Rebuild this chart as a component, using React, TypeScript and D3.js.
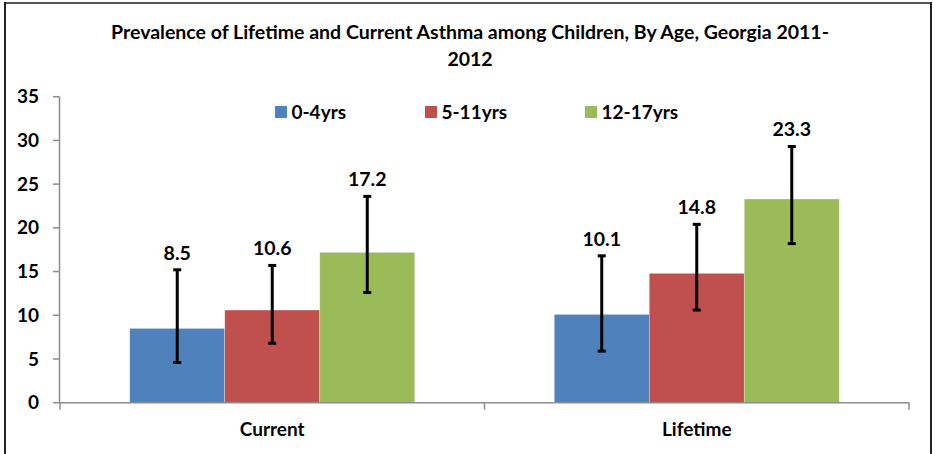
import React from "react";
import * as d3 from "d3";

const categories = ["Current", "Lifetime"];
const seriesNames = ["0-4yrs", "5-11yrs", "12-17yrs"];
const seriesColors = ["#4F81BD", "#C0504D", "#9BBB59"];
const currentValues = [8.5, 10.6, 17.2];
const lifetimeValues = [10.1, 14.8, 23.3];
const currentLower = [4.6, 6.8, 12.6];
const currentUpper = [15.2, 15.7, 23.6];
const lifetimeLower = [5.9, 10.6, 18.2];
const lifetimeUpper = [16.8, 20.4, 29.3];
const yTicks = [0, 5, 10, 15, 20, 25, 30, 35];
const titleLines = [
  "Prevalence of Lifetime and Current Asthma among Children, By Age, Georgia 2011-",
  "2012",
];

const W = 935;
const H = 454;
const FONT = "Lato, 'Open Sans', sans-serif";

export default function App() {
  const x0 = d3.scaleBand<string>().domain(categories).range([60, 909]).padding(0);
  const x1 = d3
    .scaleBand<string>()
    .domain(seriesNames)
    .range([0, x0.bandwidth()])
    .paddingInner(0)
    .paddingOuter(0.734);
  const y = d3.scaleLinear().domain([0, 35]).range([402.7, 96.7]);

  const rows = categories.map((c, ci) => ({
    cat: c,
    values: ci === 0 ? currentValues : lifetimeValues,
    lower: ci === 0 ? currentLower : lifetimeLower,
    upper: ci === 0 ? currentUpper : lifetimeUpper,
  }));

  const legendX = [275, 425, 585];
  const axisColor = "#8C8C8C";

  return (
    <svg
      width={W}
      height={H}
      style={{ position: "absolute", left: 0, top: 0, background: "#fff" }}
      fontFamily={FONT}
    >
      <rect x={0} y={0} width={W} height={H} fill="#fff" />
      {/* outer border */}
      <line x1={5} y1={3} x2={931} y2={3} stroke="#555" strokeWidth={2} />
      <line x1={5} y1={2} x2={5} y2={H} stroke="#222" strokeWidth={2} />
      <line x1={931} y1={2} x2={931} y2={H} stroke="#222" strokeWidth={2} />

      {titleLines.map((t, i) => (
        <text
          key={i}
          x={470}
          y={39 + i * 27}
          textAnchor="middle"
          fontWeight="bold"
          fontSize={19.5}
          fill="#000"
        >
          {t}
        </text>
      ))}

      {/* y axis */}
      <line x1={59.5} y1={y(35)} x2={59.5} y2={y(0)} stroke={axisColor} strokeWidth={1.5} />
      {yTicks.map((t) => (
        <g key={t}>
          <line x1={53} x2={59.5} y1={y(t)} y2={y(t)} stroke={axisColor} strokeWidth={1.5} />
          <text
            x={39}
            y={y(t)}
            dy="0.35em"
            textAnchor="end"
            fontWeight="bold"
            fontSize={19}
            fill="#000"
          >
            {t}
          </text>
        </g>
      ))}

      {/* bars */}
      {rows.map((r) => (
        <g key={r.cat} transform={`translate(${x0(r.cat)},0)`}>
          {seriesNames.map((s, si) => (
            <rect
              key={s}
              x={x1(s)}
              y={y(r.values[si])}
              width={x1.bandwidth()}
              height={y(0) - y(r.values[si])}
              fill={seriesColors[si]}
              stroke="#fff"
              strokeOpacity={0.5}
              strokeWidth={0.6}
            />
          ))}
          {seriesNames.map((s, si) => {
            const cx = (x1(s) as number) + x1.bandwidth() / 2;
            return (
              <g key={s + "e"} stroke="#000" strokeWidth={3}>
                <line x1={cx} x2={cx} y1={y(r.upper[si])} y2={y(r.lower[si])} />
                <line x1={cx - 4} x2={cx + 4} y1={y(r.upper[si])} y2={y(r.upper[si])} />
                <line x1={cx - 4} x2={cx + 4} y1={y(r.lower[si])} y2={y(r.lower[si])} />
              </g>
            );
          })}
          {seriesNames.map((s, si) => {
            const cx = (x1(s) as number) + x1.bandwidth() / 2;
            return (
              <text
                key={s + "l"}
                x={cx}
                y={y(r.upper[si]) - 17}
                dy="0.35em"
                textAnchor="middle"
                fontWeight="bold"
                fontSize={19.5}
                fill="#000"
              >
                {r.values[si].toFixed(1)}
              </text>
            );
          })}
        </g>
      ))}

      {/* x axis */}
      <line x1={59.5} x2={909} y1={y(0)} y2={y(0)} stroke={axisColor} strokeWidth={1.5} />
      {[...categories.map((c) => x0(c) as number), 909].map((xv, i) => (
        <line key={i} x1={xv} x2={xv} y1={y(0)} y2={y(0) + 7} stroke={axisColor} strokeWidth={1.5} />
      ))}
      {categories.map((c) => (
        <text
          key={c}
          x={(x0(c) as number) + x0.bandwidth() / 2}
          y={429}
          dy="0.35em"
          textAnchor="middle"
          fontWeight="bold"
          fontSize={19}
          fill="#000"
        >
          {c}
        </text>
      ))}

      {/* legend */}
      {seriesNames.map((s, si) => (
        <g key={s}>
          <rect x={legendX[si]} y={106} width={12} height={12} fill={seriesColors[si]} />
          <text
            x={legendX[si] + 16.5}
            y={112}
            dy="0.35em"
            fontWeight="bold"
            fontSize={19}
            fill="#000"
          >
            {s}
          </text>
        </g>
      ))}
    </svg>
  );
}
